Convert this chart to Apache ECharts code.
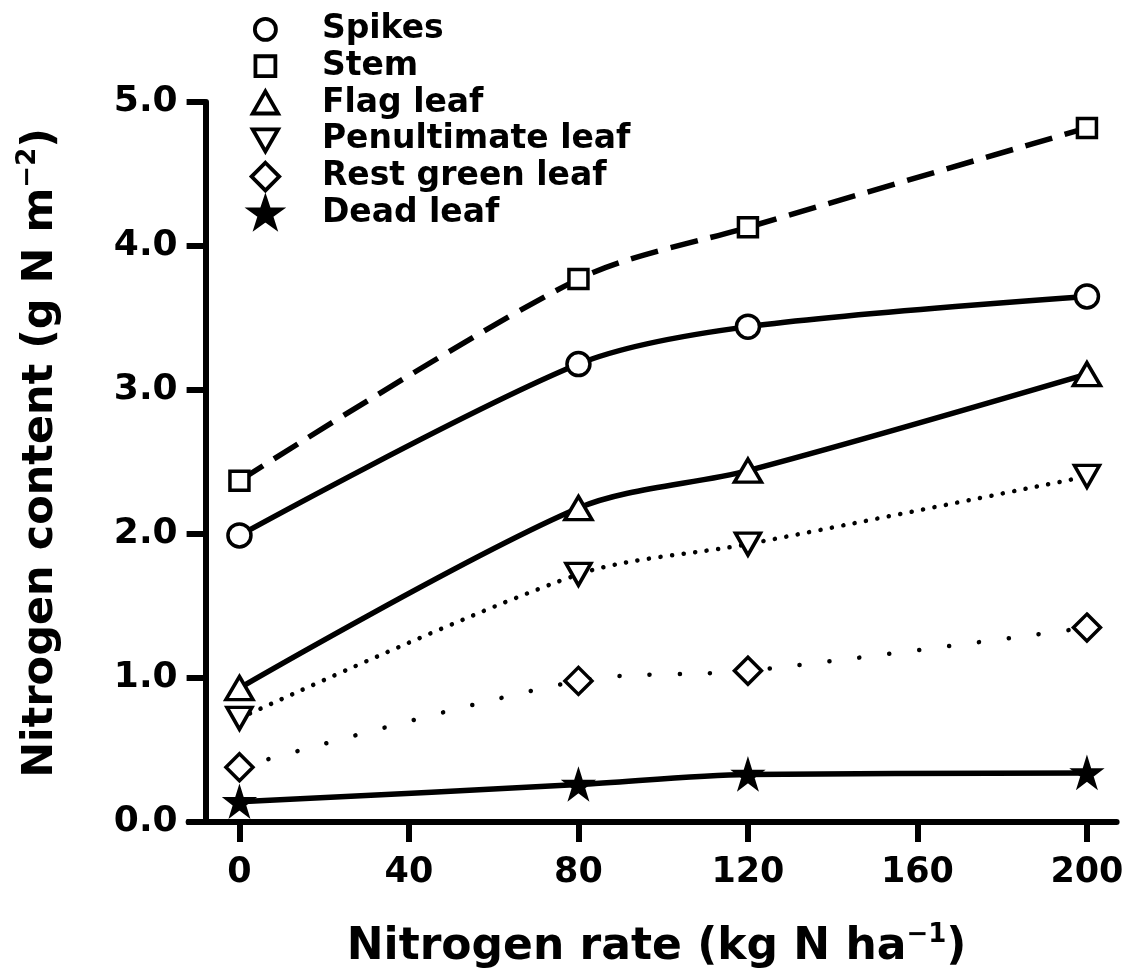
<!DOCTYPE html>
<html>
<head>
<meta charset="utf-8">
<script src="https://cdn.jsdelivr.net/npm/echarts@6/dist/echarts.min.js"></script>
<style>
  html, body { margin: 0; padding: 0; background: #ffffff; }
  #chart { width: 1134px; height: 979px; }
</style>
</head>
<body>
<div id="chart"></div>
<script>
// Nitrogen rate (kg N/ha) at which the plant parts were sampled
const rates = [0, 80, 120, 200];
const xTickValues = [0, 40, 80, 120, 160, 200];

// Nitrogen content per plant part (g N/m2)
const spikes          = [1.99, 3.18, 3.44, 3.65];
const stem            = [2.37, 3.77, 4.13, 4.82];
const flagLeaf        = [0.93, 2.18, 2.44, 3.11];
const penultimateLeaf = [0.72, 1.72, 1.93, 2.40];
const restGreenLeaf   = [0.38, 0.98, 1.05, 1.35];
const deadLeaf        = [0.14, 0.26, 0.33, 0.34];

const seriesNames = ['Spikes', 'Stem', 'Flag leaf', 'Penultimate leaf', 'Rest green leaf', 'Dead leaf'];

const FONT = 'DejaVu Sans';
const INK = '#000000';

// plot markers
const STAR = 'path://M50,0 L61.2,34.5 L97.6,34.5 L68.2,55.9 L79.4,90.5 L50,69.1 L20.6,90.5 L31.8,55.9 L2.4,34.5 L38.8,34.5 Z';
const DOWN_TRIANGLE = 'path://M0,0 L20,0 L10,17 Z';
const UP_TRIANGLE = 'path://M10,0 L20,17 L0,17 Z';
const DIAMOND = 'path://M10,0 L20,10 L10,20 L0,10 Z';

// legend icons share a 28x28 frame so each keeps its own size
const FRAME = 'M0,0 M28,28 ';
const LEGEND_ICONS = [
  'path://' + FRAME + 'M14,4.5 A9.5,9.5 0 1,1 13.99,4.5 Z',
  'path://' + FRAME + 'M5,5 L23,5 L23,23 L5,23 Z',
  'path://' + FRAME + 'M14,3.5 L25.5,23.5 L2.5,23.5 Z',
  'path://' + FRAME + 'M2.5,4.5 L25.5,4.5 L14,24.5 Z',
  'path://' + FRAME + 'M14,1.5 L26.5,14 L14,26.5 L1.5,14 Z',
  'path://' + FRAME + 'M14,0.5 L17.3,10.3 L27.6,10.3 L19.3,16.4 L22.4,26.2 L14,20.2 L5.6,26.2 L8.7,16.4 L0.4,10.3 L10.7,10.3 Z'
];

const styles = [
  { data: spikes,          symbol: 'circle',      size: 23,       line: 'solid',     fill: '#fff' },
  { data: stem,            symbol: 'rect',        size: 19,       line: [28, 13],    fill: '#fff' },
  { data: flagLeaf,        symbol: UP_TRIANGLE,   size: [27, 23], line: 'solid',     fill: '#fff' },
  { data: penultimateLeaf, symbol: DOWN_TRIANGLE, size: [25, 22], line: [0.1, 11.5], fill: '#fff' },
  { data: restGreenLeaf,   symbol: DIAMOND,       size: 27,       line: [0.1, 30],   fill: '#fff' },
  { data: deadLeaf,        symbol: STAR,          size: 25,       line: 'solid',     fill: INK }
];

const chart = echarts.init(document.getElementById('chart'), null, { renderer: 'canvas' });

const dotted = s => Array.isArray(s.line) && s.line[0] < 1;

const option = {
  backgroundColor: '#ffffff',
  animation: false,
  grid: { left: 188.6, top: 102, width: 928, height: 720, containLabel: false },
  legend: {
    orient: 'vertical',
    left: 243,
    top: 6,
    itemWidth: 31,
    itemHeight: 31,
    itemGap: 0,
    symbolKeepAspect: true,
    selectedMode: false,
    textStyle: {
      fontFamily: FONT, fontWeight: 'bold', fontSize: 33, color: INK,
      lineHeight: 36.8, padding: [0, 0, 0, 36]
    },
    data: seriesNames.map((name, i) => ({
      name,
      icon: LEGEND_ICONS[i],
      itemStyle: { color: styles[i].fill, borderColor: INK, borderWidth: 3.8 }
    }))
  },
  xAxis: {
    type: 'value',
    min: -12,
    max: 207,
    name: '{b|Nitrogen rate (kg N ha}{sup|−1}{b|)}',
    nameLocation: 'middle',
    nameGap: 100,
    nameTextStyle: {
      padding: [0, 0, 0, 8],
      rich: {
        b: { fontFamily: FONT, fontWeight: 'bold', fontSize: 44, color: INK, lineHeight: 52 },
        sup: { fontFamily: FONT, fontWeight: 'bold', fontSize: 26, color: INK, verticalAlign: 'top', lineHeight: 26 }
      }
    },
    splitLine: { show: false },
    axisLine: { onZero: false, lineStyle: { color: INK, width: 6 } },
    axisTick: { customValues: xTickValues, length: 20, lineStyle: { color: INK, width: 6 } },
    axisLabel: {
      customValues: xTickValues,
      margin: 33,
      fontFamily: FONT, fontWeight: 'bold', fontSize: 35, color: INK
    }
  },
  yAxis: {
    type: 'value',
    min: 0,
    max: 5,
    interval: 1,
    offset: -17,
    name: '{b|Nitrogen content (g N m}{sup|−2}{b|)}',
    nameLocation: 'middle',
    nameRotate: 90,
    nameGap: 140,
    nameTextStyle: {
      padding: [0, 0, 0, 18],
      rich: {
        b: { fontFamily: FONT, fontWeight: 'bold', fontSize: 43, color: INK, lineHeight: 50 },
        sup: { fontFamily: FONT, fontWeight: 'bold', fontSize: 26, color: INK, verticalAlign: 'top', lineHeight: 26 }
      }
    },
    splitLine: { show: false },
    axisLine: { show: true, onZero: false, lineStyle: { color: INK, width: 6 } },
    axisTick: { show: true, length: 19, lineStyle: { color: INK, width: 6 } },
    axisLabel: {
      margin: 28,
      formatter: v => v.toFixed(1),
      fontFamily: FONT, fontWeight: 'bold', fontSize: 36, color: INK
    }
  },
  series: seriesNames.map((name, i) => {
    const s = styles[i];
    return {
      name,
      type: 'line',
      data: rates.map((r, k) => [r, s.data[k]]),
      smooth: 0.3,
      symbol: s.symbol,
      symbolSize: s.size,
      showAllSymbol: true,
      itemStyle: { color: s.fill, borderColor: INK, borderWidth: 3.5 },
      lineStyle: {
        color: INK,
        width: dotted(s) ? 4.5 : 5.5,
        type: s.line,
        cap: dotted(s) ? 'round' : 'butt'
      },
      emphasis: { disabled: true },
      z: 2
    };
  })
};

chart.setOption(option);
</script>
</body>
</html>
